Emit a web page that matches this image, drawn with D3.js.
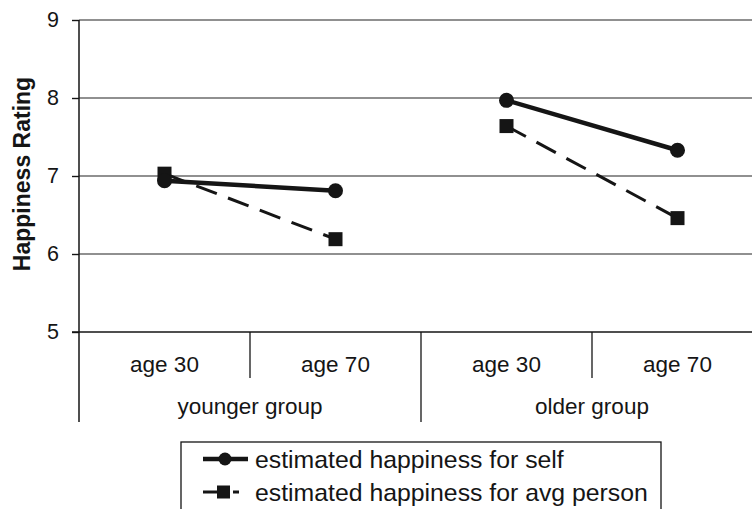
<!DOCTYPE html>
<html>
<head>
<meta charset="utf-8">
<script src="https://cdn.jsdelivr.net/npm/d3@7"></script>
<style>
  body { margin: 0; background: #fff; }
  svg { display: block; font-family: "Liberation Sans", Arial, sans-serif; }
</style>
</head>
<body>
<div id="chart"></div>
<script>
// data
const groups = ["younger group", "older group"];
const ages = ["age 30", "age 70"];
const selfValues = [[6.94, 6.81], [7.97, 7.33]];
const avgValues = [[7.03, 6.19], [7.64, 6.46]];
const yTicks = [5, 6, 7, 8, 9];
const seriesNames = ["estimated happiness for self", "estimated happiness for avg person"];

const width = 752, height = 509;
const ink = "#151515";

const svg = d3.select("#chart").append("svg")
    .attr("width", width)
    .attr("height", height);

// Scales
const cells = groups.flatMap(g => ages.map(a => g + "|" + a));
const x = d3.scaleBand().domain(cells).range([79, 763]).padding(0);
const xGroup = d3.scaleBand().domain(groups).range([79, 763]).padding(0);
const y = d3.scaleLinear().domain([5, 9]).range([332, 20]);

// Gridlines
svg.append("g").selectAll("line")
    .data(yTicks.filter(d => d > 5))
    .join("line")
    .attr("x1", 79).attr("x2", width)
    .attr("y1", d => y(d)).attr("y2", d => y(d))
    .attr("stroke", "#222").attr("stroke-width", 1.2);

// Y axis
const yAxis = d3.axisLeft(y).tickValues(yTicks).tickSize(7).tickPadding(13).tickFormat(d3.format("d"));
const yAxisGroup = svg.append("g").attr("transform", "translate(79,0)").call(yAxis);
yAxisGroup.select(".domain").remove();
yAxisGroup.selectAll(".tick line").attr("stroke", ink).attr("stroke-width", 1.4);
yAxisGroup.selectAll(".tick text")
    .attr("fill", ink)
    .style("font-size", "21.5px");

// Left axis line extends down through the category labels
svg.append("line")
    .attr("x1", 79).attr("x2", 79).attr("y1", y(9)).attr("y2", 422)
    .attr("stroke", ink).attr("stroke-width", 1.5);

// Bottom axis line
svg.append("line")
    .attr("x1", 72).attr("x2", width).attr("y1", y(5)).attr("y2", y(5))
    .attr("stroke", ink).attr("stroke-width", 1.5);

// Category separators
svg.append("g").selectAll("line")
    .data(cells.filter(c => c.endsWith(ages[1])))
    .join("line")
    .attr("x1", d => x(d)).attr("x2", d => x(d))
    .attr("y1", y(5)).attr("y2", 378)
    .attr("stroke", ink).attr("stroke-width", 1.3);

svg.append("g").selectAll("line")
    .data(groups.slice(1))
    .join("line")
    .attr("x1", d => xGroup(d)).attr("x2", d => xGroup(d))
    .attr("y1", y(5)).attr("y2", 422)
    .attr("stroke", ink).attr("stroke-width", 1.3);

// Category labels
svg.append("g").selectAll("text")
    .data(cells)
    .join("text")
    .attr("x", d => x(d) + x.bandwidth() / 2)
    .attr("y", 372)
    .attr("text-anchor", "middle")
    .attr("fill", ink)
    .style("font-size", "22.5px")
    .text(d => d.split("|")[1]);

svg.append("g").selectAll("text")
    .data(groups)
    .join("text")
    .attr("x", d => xGroup(d) + xGroup.bandwidth() / 2)
    .attr("y", 414)
    .attr("text-anchor", "middle")
    .attr("fill", ink)
    .style("font-size", "22.5px")
    .text(d => d);

// Y title
svg.append("text")
    .attr("transform", "rotate(-90)")
    .attr("x", -174)
    .attr("y", 30)
    .attr("text-anchor", "middle")
    .attr("fill", ink)
    .style("font-size", "23px")
    .style("font-weight", "bold")
    .text("Happiness Rating");

// Series lines (one segment per group)
const line = d3.line().x(d => x(d.key) + x.bandwidth() / 2).y(d => y(d.value));
const toPoints = (vals, gi) => ages.map((a, ai) => ({ key: groups[gi] + "|" + a, value: vals[ai] }));

const avgPts = avgValues.map(toPoints);
const selfPts = selfValues.map(toPoints);

svg.append("g").selectAll("path")
    .data(avgPts)
    .join("path")
    .attr("d", line)
    .attr("fill", "none")
    .attr("stroke", ink)
    .attr("stroke-width", 3)
    .attr("stroke-dasharray", "22,12");

svg.append("g").selectAll("path")
    .data(selfPts)
    .join("path")
    .attr("d", line)
    .attr("fill", "none")
    .attr("stroke", ink)
    .attr("stroke-width", 4.5);

svg.append("g").selectAll("rect")
    .data(avgPts.flat())
    .join("rect")
    .attr("x", d => x(d.key) + x.bandwidth() / 2 - 7)
    .attr("y", d => y(d.value) - 7)
    .attr("width", 14).attr("height", 14)
    .attr("fill", ink);

svg.append("g").selectAll("circle")
    .data(selfPts.flat())
    .join("circle")
    .attr("cx", d => x(d.key) + x.bandwidth() / 2)
    .attr("cy", d => y(d.value))
    .attr("r", 7.5)
    .attr("fill", ink);

// Legend
const legend = svg.append("g");
legend.append("rect")
    .attr("x", 181).attr("y", 442)
    .attr("width", 480).attr("height", 90)
    .attr("fill", "#fff")
    .attr("stroke", ink).attr("stroke-width", 1.3);

const rowY = [459, 492];
// self entry
legend.append("line")
    .attr("x1", 203).attr("x2", 248).attr("y1", rowY[0]).attr("y2", rowY[0])
    .attr("stroke", ink).attr("stroke-width", 4.5);
legend.append("circle")
    .attr("cx", 225).attr("cy", rowY[0]).attr("r", 6.5).attr("fill", ink);
// avg entry
legend.append("line")
    .attr("x1", 203).attr("x2", 239).attr("y1", rowY[1]).attr("y2", rowY[1])
    .attr("stroke", ink).attr("stroke-width", 3)
    .attr("stroke-dasharray", "22,8");
legend.append("rect")
    .attr("x", 217).attr("y", rowY[1] - 6.5).attr("width", 13).attr("height", 13)
    .attr("fill", ink);

legend.selectAll("text.entry")
    .data(seriesNames)
    .join("text")
    .attr("class", "entry")
    .attr("x", 255)
    .attr("y", (d, i) => rowY[i] + 9)
    .attr("fill", ink)
    .style("font-size", "24.8px")
    .text(d => d);
</script>
</body>
</html>
